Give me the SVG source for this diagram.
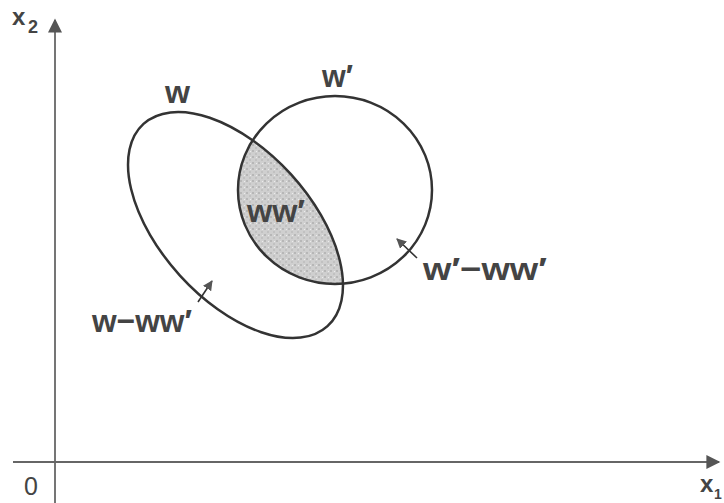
<svg xmlns="http://www.w3.org/2000/svg" width="724" height="503" viewBox="0 0 724 503">
<style>
.axis{stroke:#666;stroke-width:1.8;fill:none}
.set{stroke:#333;stroke-width:2.5;fill:none}
.lbl{font-family:"Liberation Sans",Arial,sans-serif;fill:#444;font-size:32px;font-weight:bold}
.ptr{stroke:#333;stroke-width:1.6;fill:none}
</style>
<defs>
<marker id="ah" viewBox="0 0 10 10" refX="9" refY="5" markerWidth="10" markerHeight="10" markerUnits="userSpaceOnUse" orient="auto">
<path d="M0,0 L10,5 L0,10 z" fill="#555"/>
</marker>
<marker id="big" viewBox="0 0 10 10" refX="9" refY="5" markerWidth="20" markerHeight="14" markerUnits="userSpaceOnUse" orient="auto">
<path d="M0,0 L10,5 L0,10 z" fill="#555"/>
</marker>
<pattern id="dots" width="6" height="6" patternUnits="userSpaceOnUse">
<rect width="6" height="6" fill="#cfcfcf"/>
<circle cx="1" cy="1" r="0.8" fill="#999"/>
<circle cx="4" cy="4" r="0.7" fill="#aaa"/>
<circle cx="4.5" cy="1.5" r="0.6" fill="#f2f2f2"/>
</pattern>
<clipPath id="clipW">
<ellipse cx="235.5" cy="225" rx="136.7" ry="75.1" transform="rotate(47.7 235.5 225)"/>
</clipPath>
</defs>
<rect width="724" height="503" fill="#fff"/>
<g id="axes">
<line class="axis" x1="55" y1="503" x2="55" y2="20" marker-end="url(#big)"/>
<line class="axis" x1="13" y1="462" x2="719" y2="462" marker-end="url(#big)"/>
<text class="lbl" x="12" y="25" style="font-size:24px">x</text>
<text class="lbl" x="28" y="33" style="font-size:18px">2</text>
<text class="lbl" x="24" y="495" style="font-size:25px;font-weight:normal">0</text>
<text class="lbl" x="700" y="492" style="font-size:24px">x</text>
<text class="lbl" x="714" y="499" style="font-size:14px">1</text>
</g>
<g id="intersection">
<ellipse cx="335" cy="190" rx="97" ry="94" fill="url(#dots)" clip-path="url(#clipW)"/>
<text class="lbl" x="247" y="222" textLength="58" lengthAdjust="spacingAndGlyphs">ww′</text>
</g>
<g id="W">
<ellipse class="set" cx="235.5" cy="225" rx="136.7" ry="75.1" transform="rotate(47.7 235.5 225)"/>
<text class="lbl" x="165" y="103" textLength="25" lengthAdjust="spacingAndGlyphs">w</text>
</g>
<g id="Wp">
<ellipse class="set" cx="335" cy="190" rx="97" ry="94"/>
<text class="lbl" x="322" y="87" textLength="31" lengthAdjust="spacingAndGlyphs">w′</text>
</g>
<g id="W-WWp">
<text class="lbl" x="92" y="332" textLength="100" lengthAdjust="spacingAndGlyphs">w−ww′</text>
</g>
<g id="Wp-WWp">
<text class="lbl" x="423" y="280" textLength="124" lengthAdjust="spacingAndGlyphs">w′−ww′</text>
</g>
<g id="connectors">
<line class="ptr" x1="198" y1="302" x2="212" y2="281" marker-end="url(#ah)"/>
<line class="ptr" x1="417" y1="258" x2="397" y2="239" marker-end="url(#ah)"/>
</g>
</svg>
